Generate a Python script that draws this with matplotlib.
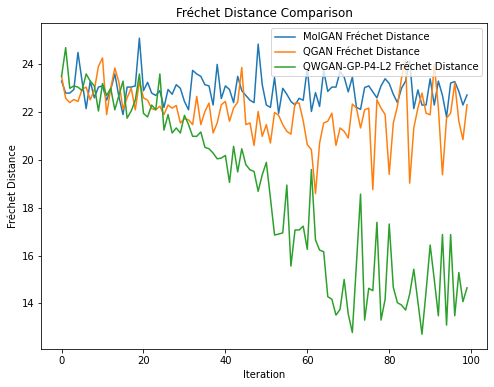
import numpy as np
import matplotlib
matplotlib.use("Agg")
import matplotlib.pyplot as plt

# Frechet distance per iteration
molgan = [23.3, 22.8, 22.8, 22.95, 24.5, 23.3, 22.15, 23.3, 22.6, 23.05,
          23.1, 22.5, 22.95, 23.6, 22.65, 21.9, 23.05, 23.05, 23.1, 25.1,
          22.9, 23.25, 22.8, 22.7, 22.9, 22.2, 22.95, 22.75, 23.15, 23.0,
          22.45, 22.1, 23.75, 23.6, 23.5, 23.15, 23.1, 22.3, 24.0, 22.57,
          23.1, 22.95, 22.4, 23.5, 22.9, 22.7, 22.5, 22.4, 24.85, 23.15,
          22.3, 22.2, 23.45, 21.95, 23.0, 22.75, 22.45, 22.3, 22.58, 22.5,
          23.85, 22.03, 22.82, 22.24, 23.75, 22.87, 23.05, 23.05, 23.7, 23.47,
          22.85, 23.47, 22.2, 22.12, 23.03, 23.1, 22.85, 22.6, 23.1, 23.4,
          23.2, 22.75, 22.4, 23.0, 23.3, 24.15, 22.15, 22.93, 22.3, 22.3,
          23.4, 22.3, 23.3, 22.7, 21.8, 23.22, 23.28, 22.87, 22.3, 22.72]

qgan = [23.5, 22.58, 22.4, 22.53, 22.45, 22.95, 23.05, 22.52, 22.93, 23.92,
        24.27, 21.9, 23.0, 23.85, 23.25, 22.12, 22.6, 23.0, 22.1, 23.27,
        22.6, 22.5, 22.15, 22.1, 22.25, 21.9, 22.3, 22.17, 22.28, 21.55,
        21.73, 21.68, 21.48, 22.66, 21.48, 22.03, 22.38, 21.13, 21.55, 22.31,
        22.45, 21.62, 22.17, 22.42, 23.87, 21.48, 21.55, 20.61, 22.03, 20.99,
        21.48, 20.71, 21.99, 21.87, 21.48, 21.2, 21.08, 22.38, 22.38, 21.64,
        20.64, 20.43, 18.59, 20.71, 21.55, 21.62, 21.96, 20.61, 21.34, 21.2,
        20.92, 22.34, 22.17, 21.34, 22.1, 22.17, 18.76, 22.52, 22.17, 21.9,
        19.4, 21.55, 22.24, 23.43, 24.2, 19.03, 21.34, 22.17, 22.8, 21.96,
        21.89, 24.0, 22.2, 19.38, 21.75, 21.96, 23.22, 21.62, 20.85, 22.31]

qwgan = [23.5, 24.7, 23.0, 23.1, 23.05, 22.9, 23.6, 23.3, 23.1, 22.05,
         23.2, 22.7, 23.0, 22.1, 22.7, 23.3, 21.75, 22.05, 22.5, 23.6,
         21.95, 21.8, 22.3, 22.1, 23.6, 21.25, 21.9, 21.13, 21.34, 21.13,
         21.87, 21.48, 20.99, 20.99, 21.17, 20.53, 20.47, 20.29, 20.05, 20.08,
         20.19, 19.06, 20.57, 19.5, 20.47, 19.8, 19.59, 19.52, 18.69, 19.38,
         19.9, 18.4, 16.86, 16.9, 16.95, 18.95, 15.56, 17.07, 17.07, 17.23,
         16.26, 19.6, 16.65, 16.23, 16.16, 14.28, 14.17, 13.51, 13.75, 15.0,
         13.55, 12.78, 15.67, 18.57, 13.3, 14.63, 14.53, 17.39, 13.3, 14.17,
         17.32, 14.67, 14.03, 13.93, 13.72, 14.39, 15.43, 14.07, 12.71, 14.5,
         16.44, 15.0, 13.48, 16.88, 13.09, 16.88, 13.48, 15.29, 14.07, 14.65]

iters = np.arange(len(molgan))

fig = plt.figure(figsize=(494 / 72, 387 / 72), dpi=72)
ax = fig.add_axes([41.3 / 494, 38 / 387, 446 / 494, 325.7 / 387])

ax.plot(iters, molgan, label='MolGAN Fréchet Distance')
ax.plot(iters, qgan, label='QGAN Fréchet Distance')
ax.plot(iters, qwgan, label='QWGAN-GP-P4-L2 Fréchet Distance')

ax.set_title('Fréchet Distance Comparison')
ax.set_xlabel('Iteration')
ax.set_ylabel('Fréchet Distance')
ax.legend(loc='upper right')

fig.savefig('out.png', dpi=72)
